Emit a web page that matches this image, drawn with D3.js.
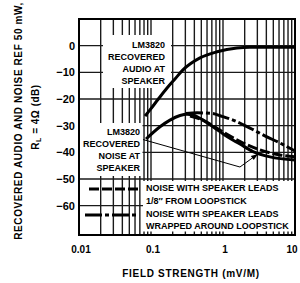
<!DOCTYPE html>
<html><head><meta charset="utf-8">
<script src="https://cdn.jsdelivr.net/npm/d3@7"></script>
<style>
html,body{margin:0;padding:0;background:#fff;}
svg{display:block;font-family:"Liberation Sans",Arial,sans-serif;font-weight:bold;}
</style></head>
<body>
<svg id="c" width="300" height="283"></svg>
<script>
// ---- data ----
const xTickValues = [0.01, 0.1, 1, 10];
const xTickLabels = ["0.01", "0.1", "1", "10"];
const yTickValues = [0, -10, -20, -30, -40, -50, -60];
const yTickLabels = ["0", "−10", "−20", "−30", "−40", "−50", "−60"];

const audioX = [0.0826, 0.0968, 0.125, 0.167, 0.215, 0.278, 0.479, 0.826, 1.56, 2.37, 10];
const audioY = [-26.4, -24.1, -20.2, -15.9, -12.5, -9.1, -4.6, -2.3, -0.86, -0.6, -0.6];

const noiseX = [0.0853, 0.1334, 0.1835, 0.253, 0.316, 0.383, 0.527, 0.726, 1.136, 1.72, 2.61, 4.50, 10];
const noiseY = [-35.0, -30.4, -27.9, -26.2, -25.7, -26.0, -27.9, -30.4, -34.1, -36.9, -39.7, -41.7, -42.9];

const leadsNearX = [0.348, 0.48, 0.66, 1.0, 1.90, 3.27, 6.19, 10];
const leadsNearY = [-26.4, -27.5, -29.4, -32.4, -36.5, -39.1, -41.0, -41.7];

const wrappedX = [0.306, 0.436, 0.703, 0.968, 1.38, 2.37, 4.08, 6.19, 10];
const wrappedY = [-25.4, -25.2, -25.4, -26.5, -27.9, -30.9, -34.2, -36.5, -39.5];

// annotation pointer (data units): from label, to vertex, to arrow tip
const pointerX = [0.0774, 1.72, 3.06];
const pointerY = [-35.2, -45.5, -40.6];

const audioLabel = ["LM3820", "RECOVERED", "AUDIO AT", "SPEAKER"];
const noiseLabel = ["LM3820", "RECOVERED", "NOISE AT", "SPEAKER"];
const legendLabels = [["NOISE WITH SPEAKER LEADS", "1/8″ FROM LOOPSTICK"],
                      ["NOISE WITH SPEAKER LEADS", "WRAPPED AROUND LOOPSTICK"]];
const xTitle = "FIELD STRENGTH (mV/M)";
const yTitle1 = "RECOVERED AUDIO AND NOISE REF 50 mW,";

// ---- layout ----
const L = 79, R = 295, T = 19, B = 235;
const svg = d3.select("#c");
const x = d3.scaleLog().domain([0.01, 10]).range([L, R]);
const y = d3.scaleLinear().domain([10, -71]).range([T, B]);

// grid
const grid = svg.append("g").attr("stroke", "#1a1a1a").attr("stroke-width", 1.4);
grid.selectAll("line.v").data(x.ticks()).join("line")
  .attr("x1", d => x(d)).attr("x2", d => x(d)).attr("y1", T).attr("y2", B);
grid.selectAll("line.h").data(yTickValues).join("line")
  .attr("x1", L).attr("x2", R).attr("y1", d => y(d)).attr("y2", d => y(d));

// white masks behind label blocks
const masks = [[103, 35, 68, 53], [80, 123, 62.5, 53], [143, 181, 151, 50.5]];
svg.append("g").selectAll("rect").data(masks).join("rect")
  .attr("x", d => d[0]).attr("y", d => d[1]).attr("width", d => d[2]).attr("height", d => d[3])
  .attr("fill", "#fff");

// curves
const line = d3.line().x(d => x(d[0])).y(d => y(d[1])).curve(d3.curveMonotoneX);
const zip = (a, b) => a.map((v, i) => [v, b[i]]);
svg.append("path").attr("d", line(zip(audioX, audioY)))
  .attr("fill", "none").attr("stroke", "#000").attr("stroke-width", 3);
svg.append("path").attr("d", line(zip(noiseX, noiseY)))
  .attr("fill", "none").attr("stroke", "#000").attr("stroke-width", 3);
svg.append("path").attr("d", line(zip(leadsNearX, leadsNearY)))
  .attr("fill", "none").attr("stroke", "#000").attr("stroke-width", 3).attr("stroke-dasharray", "10,3");
svg.append("path").attr("d", line(zip(wrappedX, wrappedY)))
  .attr("fill", "none").attr("stroke", "#000").attr("stroke-width", 3).attr("stroke-dasharray", "17,3,4,3");

// pointer with arrow
const pp = zip(pointerX, pointerY).map(d => [x(d[0]), y(d[1])]);
svg.append("path").attr("d", d3.line()(pp)).attr("fill", "none").attr("stroke", "#000").attr("stroke-width", 1);
{
  const [a, b] = [pp[1], pp[2]];
  const ang = Math.atan2(b[1] - a[1], b[0] - a[0]);
  const len = 7, w = 2.5;
  const bx = b[0] - len * Math.cos(ang), by = b[1] - len * Math.sin(ang);
  const p1 = [bx + w * Math.sin(ang), by - w * Math.cos(ang)];
  const p2 = [bx - w * Math.sin(ang), by + w * Math.cos(ang)];
  svg.append("path").attr("d", `M${b[0]},${b[1]}L${p1[0]},${p1[1]}L${p2[0]},${p2[1]}Z`).attr("fill", "#000");
}

// frame
svg.append("rect").attr("x", L).attr("y", T).attr("width", R - L).attr("height", B - T)
  .attr("fill", "none").attr("stroke", "#000").attr("stroke-width", 2);

// labels
svg.append("g").attr("font-size", 9).attr("text-anchor", "end")
  .selectAll("text").data(audioLabel).join("text")
  .attr("x", 165).attr("y", (d, i) => 47.5 + i * 12.2).text(d => d);
svg.append("g").attr("font-size", 9).attr("text-anchor", "end")
  .selectAll("text").data(noiseLabel).join("text")
  .attr("x", 140).attr("y", (d, i) => 135 + i * 12).text(d => d);

// legend
const lg = svg.append("g").attr("font-size", 9);
const legText = [legendLabels[0][0], legendLabels[0][1], legendLabels[1][0], legendLabels[1][1]];
const legBase = [191, 203.5, 216.5, 229];
lg.selectAll("text").data(legText).join("text")
  .attr("x", 146).attr("y", (d, i) => legBase[i]).text(d => d);
lg.append("line").attr("x1", 89).attr("x2", 141).attr("y1", 189).attr("y2", 189)
  .attr("stroke", "#000").attr("stroke-width", 3).attr("stroke-dasharray", "10,3");
lg.append("line").attr("x1", 85).attr("x2", 139).attr("y1", 215).attr("y2", 215)
  .attr("stroke", "#000").attr("stroke-width", 3).attr("stroke-dasharray", "17,3,4,3");

// axes tick labels
svg.append("g").attr("font-size", 10).attr("text-anchor", "middle")
  .selectAll("text").data(xTickValues).join("text")
  .attr("x", d => Math.min(x(d) + 2, 292)).attr("y", 253).text((d, i) => xTickLabels[i]);
svg.append("g").attr("font-size", 11).attr("text-anchor", "end")
  .selectAll("text").data(yTickValues).join("text")
  .attr("x", 75).attr("y", d => y(d) + 4).text((d, i) => yTickLabels[i]);

// axis titles
svg.append("text").attr("x", 191).attr("y", 277).attr("font-size", 10).attr("letter-spacing", 0.7)
  .attr("text-anchor", "middle").text(xTitle);
svg.append("text").attr("transform", "translate(22,121) rotate(-90)").attr("font-size", 10)
  .attr("letter-spacing", 0.6).attr("text-anchor", "middle").text(yTitle1);
const t2 = svg.append("text").attr("transform", "translate(39,117) rotate(-90)").attr("font-size", 10)
  .attr("letter-spacing", 0.5).attr("text-anchor", "middle");
t2.append("tspan").text("R");
t2.append("tspan").attr("font-size", 7).attr("dy", 2).text("L");
t2.append("tspan").attr("dy", -2).text(" = 4Ω (dB)");
</script>
</body></html>
